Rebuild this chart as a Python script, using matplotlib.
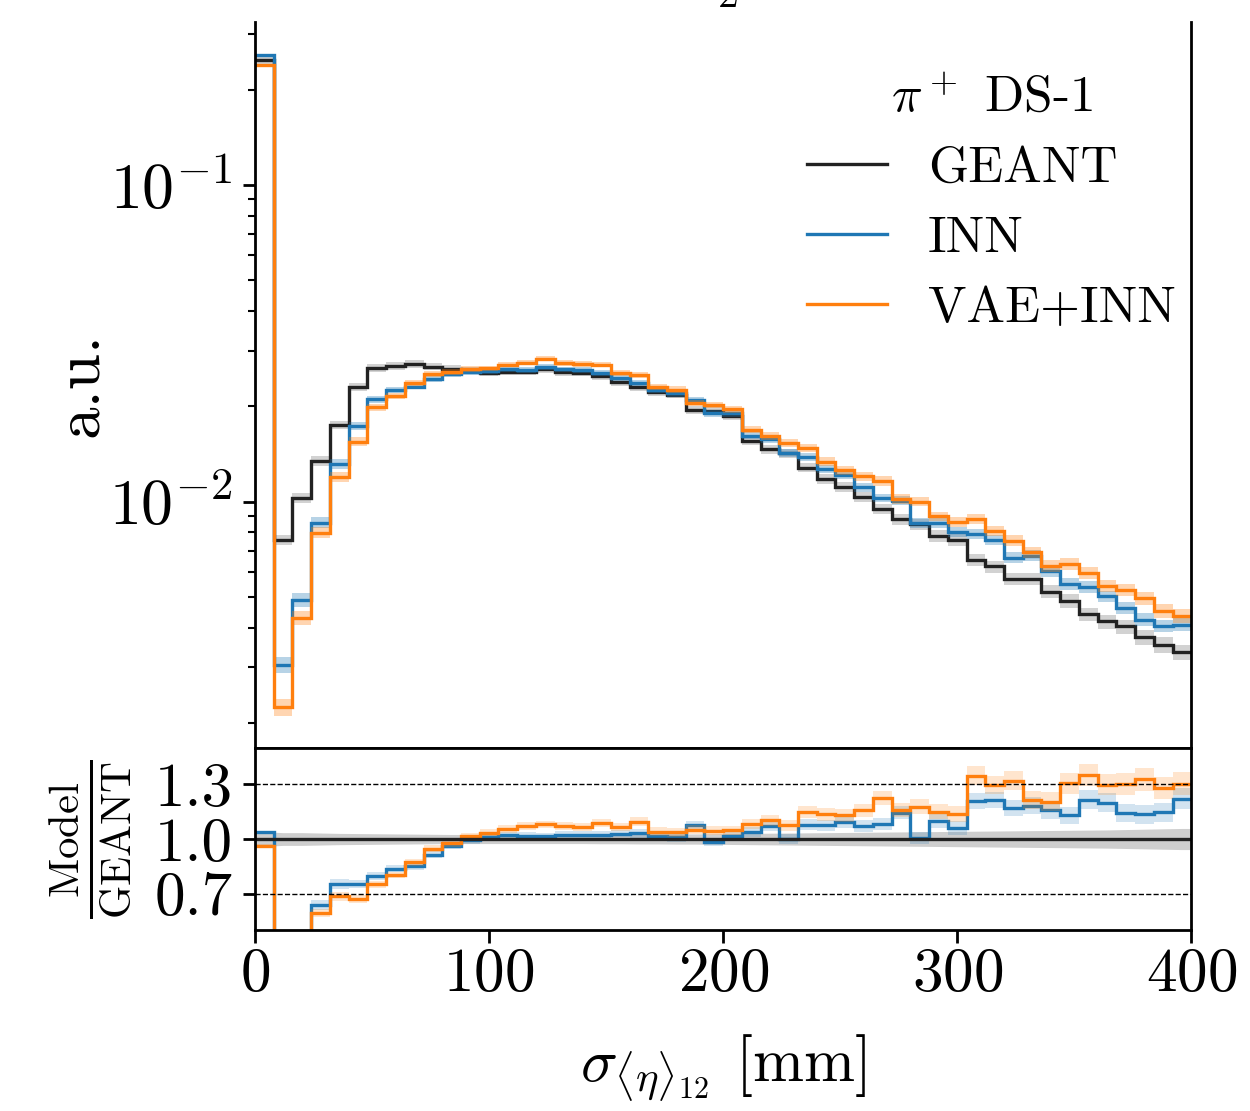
import matplotlib
matplotlib.use("Agg")
import matplotlib.pyplot as plt
import numpy as np

plt.rcParams['font.family'] = 'serif'
plt.rcParams['font.serif'] = ['cmr10']
plt.rcParams['mathtext.fontset'] = 'cm'
plt.rcParams['axes.formatter.use_mathtext'] = True
plt.rcParams['axes.unicode_minus'] = False

# 50 bins of 8 mm between 0 and 400
edges = np.linspace(0, 400, 51)

geant = [0.248, 0.00759, 0.0103, 0.01346, 0.0175, 0.0231, 0.0265, 0.0269, 0.0272, 0.0267,
         0.0263, 0.0259, 0.0255, 0.0257, 0.0257, 0.0262, 0.0256, 0.0255, 0.0249, 0.0239,
         0.0230, 0.0222, 0.0218, 0.0195, 0.0193, 0.0187, 0.01557, 0.01466, 0.01425, 0.01283,
         0.01180, 0.01112, 0.01039, 0.00950, 0.00881, 0.00851, 0.00781, 0.00759, 0.00656, 0.00625,
         0.00570, 0.00571, 0.00521, 0.00487, 0.00442, 0.00419, 0.00404, 0.00374, 0.00354, 0.00335]

inn = [0.257, 0.00306, 0.00491, 0.00859, 0.0132, 0.0174, 0.0211, 0.0225, 0.0231, 0.0244,
       0.0253, 0.0257, 0.0258, 0.0262, 0.0261, 0.0266, 0.0262, 0.0261, 0.0255, 0.0246,
       0.0237, 0.0226, 0.0220, 0.0210, 0.0190, 0.0190, 0.01616, 0.01574, 0.01425, 0.01384,
       0.01268, 0.01217, 0.01112, 0.01028, 0.01009, 0.00857, 0.00857, 0.00805, 0.00792, 0.00759,
       0.00667, 0.00676, 0.00603, 0.00551, 0.00538, 0.00503, 0.00462, 0.00425, 0.00406, 0.00409]

vae = [0.239, 0.00225, 0.00431, 0.00798, 0.0120, 0.0155, 0.0199, 0.0216, 0.0237, 0.0253,
       0.0257, 0.0263, 0.0264, 0.0271, 0.0275, 0.0283, 0.0274, 0.0272, 0.0271, 0.0255,
       0.0252, 0.0231, 0.0226, 0.0205, 0.0202, 0.0196, 0.01687, 0.01616, 0.01532, 0.01476,
       0.01340, 0.01256, 0.01202, 0.01164, 0.01021, 0.01002, 0.00899, 0.00863, 0.00884, 0.00810,
       0.00753, 0.00693, 0.00628, 0.00636, 0.00598, 0.00544, 0.00527, 0.00497, 0.00453, 0.00437]

# relative uncertainties per bin
geant_err = [0.04, 0.035, 0.035, 0.033, 0.031, 0.03, 0.029, 0.028, 0.027, 0.026,
             0.025, 0.025, 0.025, 0.025, 0.025, 0.025, 0.025, 0.025, 0.026, 0.026,
             0.027, 0.027, 0.028, 0.028, 0.029, 0.03, 0.031, 0.032, 0.033, 0.034,
             0.035, 0.036, 0.037, 0.038, 0.039, 0.04, 0.041, 0.042, 0.043, 0.044,
             0.045, 0.046, 0.047, 0.048, 0.049, 0.05, 0.052, 0.054, 0.056, 0.058]
inn_err = [0.01, 0.06, 0.05, 0.04, 0.035, 0.03, 0.025, 0.022, 0.02, 0.02,
           0.02, 0.02, 0.02, 0.02, 0.02, 0.02, 0.02, 0.02, 0.02, 0.02,
           0.022, 0.022, 0.023, 0.023, 0.024, 0.025, 0.026, 0.027, 0.028, 0.029,
           0.03, 0.03, 0.031, 0.032, 0.033, 0.034, 0.035, 0.035, 0.036, 0.037,
           0.038, 0.039, 0.04, 0.041, 0.042, 0.043, 0.044, 0.045, 0.046, 0.047]
vae_err = [0.01, 0.06, 0.05, 0.04, 0.035, 0.03, 0.025, 0.022, 0.02, 0.02,
           0.02, 0.02, 0.02, 0.02, 0.02, 0.02, 0.02, 0.02, 0.02, 0.02,
           0.022, 0.022, 0.023, 0.023, 0.024, 0.025, 0.026, 0.027, 0.028, 0.029,
           0.03, 0.031, 0.032, 0.033, 0.034, 0.035, 0.036, 0.037, 0.038, 0.039,
           0.04, 0.041, 0.042, 0.043, 0.044, 0.045, 0.046, 0.047, 0.048, 0.05]

names = ['GEANT', 'INN', 'VAE+INN']
colors = ['#222222', '#1f77b4', '#ff7f0e']
band_colors = ['0.45', '#1f77b4', '#ff7f0e']

geant = np.array(geant)
series = [np.array(geant), np.array(inn), np.array(vae)]
errs = [np.array(geant_err), np.array(inn_err), np.array(vae_err)]

fig = plt.figure(figsize=(12.5, 11.11), dpi=100)
ax1 = fig.add_axes([0.204, 0.3267, 0.749, 0.6535])
ax2 = fig.add_axes([0.204, 0.1629, 0.749, 0.1638], sharex=ax1)

for vals, err, c, bc, name in zip(series, errs, colors, band_colors, names):
    ax1.stairs(vals * (1 + err), edges, baseline=vals * (1 - err), fill=True,
               color=bc, alpha=0.32, lw=0)
    ax1.stairs(vals, edges, baseline=None, color=c, lw=2.4, label=name)

# smooth reference band, running from edge to edge
centers = 0.5 * (edges[1:] + edges[:-1])
xb = np.concatenate([[edges[0]], centers, [edges[-1]]])
eb = np.concatenate([[errs[0][0]], errs[0], [errs[0][-1]]])
ax2.fill_between(xb, 1 - eb, 1 + eb, color='0.45', alpha=0.35, lw=0)
ax2.axhline(1.0, color=colors[0], lw=2.4)
for vals, err, c in zip(series[1:], errs[1:], colors[1:]):
    r = vals / geant
    ax2.stairs(r * (1 + err), edges, baseline=r * (1 - err), fill=True,
               color=c, alpha=0.2, lw=0)
    ax2.stairs(r, edges, baseline=None, color=c, lw=2.4)
ax2.axhline(1.3, color='k', ls='--', lw=1.0)
ax2.axhline(0.7, color='k', ls='--', lw=1.0)

ax1.set_yscale('log')
ax1.set_ylim(0.00167, 0.327)
ax1.set_xlim(0, 400)
ax2.set_ylim(0.5, 1.5)
ax2.set_yticks([0.7, 1.0, 1.3])
ax2.set_yticklabels(['0.7', '1.0', '1.3'])
ax2.set_xticks([0, 100, 200, 300, 400])

ax1.spines['top'].set_visible(False)
for ax in (ax1, ax2):
    for s in ax.spines.values():
        s.set_linewidth(2.0)
    ax.tick_params(axis='both', which='major', labelsize=44, length=9, width=2.0)
    ax.tick_params(axis='both', which='minor', length=5, width=1.5)
    ax.tick_params(axis='y', which='major', pad=7)
ax1.tick_params(axis='y', which='major', labelsize=46)
ax1.tick_params(axis='x', which='both', bottom=False, labelbottom=False)

ax1.set_ylabel('a.u.', fontsize=47)
ax2.set_ylabel(r'$\frac{\rm Model}{\rm GEANT}$', fontsize=44)
ax2.set_xlabel(r'$\sigma_{\langle\eta\rangle_{12}}$ [mm]', fontsize=44, labelpad=22)
ax1.yaxis.set_label_coords(-0.155, 0.5)
ax2.yaxis.set_label_coords(-0.13, 0.5)

leg = ax1.legend(title=r'$\pi^+$ DS-1', loc='upper right', bbox_to_anchor=(1.033, 0.99),
                 frameon=False, fontsize=37, title_fontsize=37, handlelength=1.55,
                 handletextpad=0.8, labelspacing=0.47)

fig.text(0.583, 1 - 7 / 1111, '2', fontsize=30, ha='center', va='baseline')

fig.savefig('out.png', dpi=100)
